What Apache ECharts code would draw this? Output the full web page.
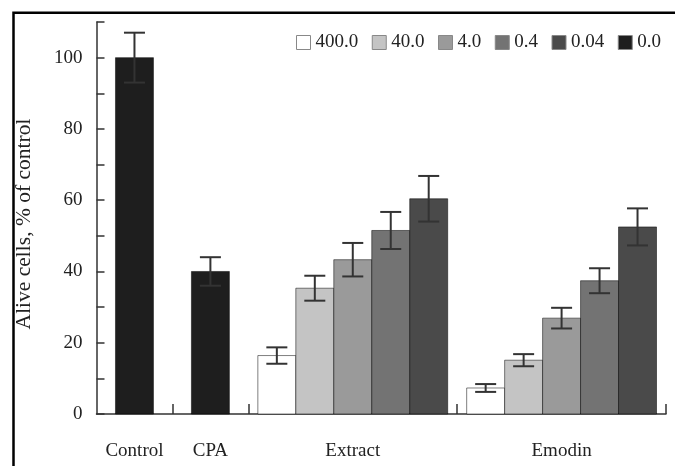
<!DOCTYPE html>
<html>
<head>
<meta charset="utf-8">
<script src="https://cdn.jsdelivr.net/npm/echarts@6/dist/echarts.min.js"></script>
<style>
html,body{margin:0;padding:0;background:#fff;}
#chart{width:675px;height:466px;}
</style>
</head>
<body>
<div id="chart"></div>
<script>
// ---- data ----
const groups = ['Control', 'CPA', 'Extract', 'Emodin'];
const concentrations = ['400.0', '40.0', '4.0', '0.4', '0.04', '0.0'];
const controlMean = [100];
const controlErr = [7];
const cpaMean = [40];
const cpaErr = [4];
const extractMean = [16.4, 35.3, 43.3, 51.5, 60.4];
const extractErr = [2.3, 3.5, 4.7, 5.2, 6.4];
const emodinMean = [7.3, 15.1, 26.9, 37.4, 52.5];
const emodinErr = [1.1, 1.7, 2.9, 3.5, 5.2];
const yTicks = [0, 20, 40, 60, 80, 100];

// ---- layout (x axis in bar-width units) ----
const groupSpan = [[0, 2], [2, 4], [4, 9.5], [9.5, 15]];
const colors = ['#ffffff', '#c4c4c4', '#9a9a9a', '#737373', '#4a4a4a', '#1e1e1e'];
const FONT = "'Liberation Serif', 'Times New Roman', serif";

function centerOf(g) { return (groupSpan[g][0] + groupSpan[g][1]) / 2; }
// bar center positions for n adjacent bars centered in the group
function barCenters(g, n) {
  const c = centerOf(g);
  const out = [];
  for (let i = 0; i < n; i++) out.push(c - n / 2 + 0.5 + i);
  return out;
}

// series data: concentration index -> list of [x, mean, err]
const seriesData = concentrations.map(() => []);
const exC = barCenters(2, 5), emC = barCenters(3, 5);
for (let i = 0; i < 5; i++) {
  seriesData[i].push([exC[i], extractMean[i], extractErr[i]]);
  seriesData[i].push([emC[i], emodinMean[i], emodinErr[i]]);
}
seriesData[5].push([barCenters(0, 1)[0], controlMean[0], controlErr[0]]);
seriesData[5].push([barCenters(1, 1)[0], cpaMean[0], cpaErr[0]]);

function renderItem(params, api) {
  const x = api.value(0), y = api.value(1), e = api.value(2);
  const p0 = api.coord([x - 0.5, 0]);
  const p1 = api.coord([x + 0.5, y]);
  const top = api.coord([x, y + e]);
  const bot = api.coord([x, y - e]);
  const cap = 10.5;
  const color = api.visual('color');
  return {
    type: 'group',
    children: [
      { type: 'rect', shape: { x: p0[0], y: p1[1], width: p1[0] - p0[0], height: p0[1] - p1[1] },
        style: { fill: color, stroke: 'rgba(0,0,0,0.5)', lineWidth: 1 } },
      { type: 'line', shape: { x1: top[0], y1: top[1], x2: bot[0], y2: bot[1] },
        style: { stroke: '#333', lineWidth: 2 } },
      { type: 'line', shape: { x1: top[0] - cap, y1: top[1], x2: top[0] + cap, y2: top[1] },
        style: { stroke: '#333', lineWidth: 2 } },
      { type: 'line', shape: { x1: bot[0] - cap, y1: bot[1], x2: bot[0] + cap, y2: bot[1] },
        style: { stroke: '#333', lineWidth: 2 } }
    ]
  };
}

const chart = echarts.init(document.getElementById('chart'), null, { renderer: 'canvas' });
chart.setOption({
  animation: false,
  backgroundColor: '#fff',
  grid: { left: 96.5, right: 9, top: 22, bottom: 52, containLabel: false },
  legend: {
    left: 296, top: 33, padding: 0,
    itemWidth: 14, itemHeight: 14, itemGap: 13.5,
    icon: 'rect',
    textStyle: { fontFamily: FONT, fontSize: 19, color: '#222' },
    data: concentrations.map((c, i) => ({ name: c, itemStyle: { color: colors[i], borderColor: '#888', borderWidth: 1 } }))
  },
  xAxis: {
    type: 'value', min: 0, max: 15,
    splitLine: { show: false },
    axisLine: { show: true, lineStyle: { color: '#333', width: 1.5 } },
    axisTick: { show: true, inside: true, length: 10, lineStyle: { color: '#333', width: 1.5 },
      customValues: [2, 4, 9.5, 15] },
    axisLabel: {
      customValues: groups.map((g, i) => centerOf(i)),
      formatter: function (v) {
        for (let i = 0; i < groups.length; i++) if (Math.abs(centerOf(i) - v) < 1e-6) return groups[i];
        return '';
      },
      margin: 28, fontFamily: FONT, fontSize: 19, color: '#222'
    }
  },
  yAxis: {
    type: 'value', min: 0, max: 110, interval: 10,
    name: 'Alive cells, % of control', nameLocation: 'middle', nameGap: 61,
    nameTextStyle: { fontFamily: FONT, fontSize: 21.5, color: '#222', padding: [0, 12, 0, 0] },
    splitLine: { show: false },
    axisLine: { show: true, lineStyle: { color: '#333', width: 1.5 } },
    axisTick: { show: true, inside: true, length: 8, lineStyle: { color: '#333', width: 1.5 } },
    axisLabel: {
      margin: 14, fontFamily: FONT, fontSize: 19, color: '#222',
      formatter: function (v) { return yTicks.indexOf(v) >= 0 ? String(v) : ''; }
    }
  },
  graphic: [{
    type: 'polyline', silent: true,
    shape: { points: [[13.5, 466], [13.5, 12.8], [675, 12.8]] },
    style: { stroke: '#000', lineWidth: 2.5, fill: null }
  }],
  series: concentrations.map((c, i) => ({
    name: c, type: 'custom', renderItem: renderItem,
    itemStyle: { color: colors[i] },
    encode: { x: 0, y: 1 },
    data: seriesData[i]
  }))
});
</script>
</body>
</html>
